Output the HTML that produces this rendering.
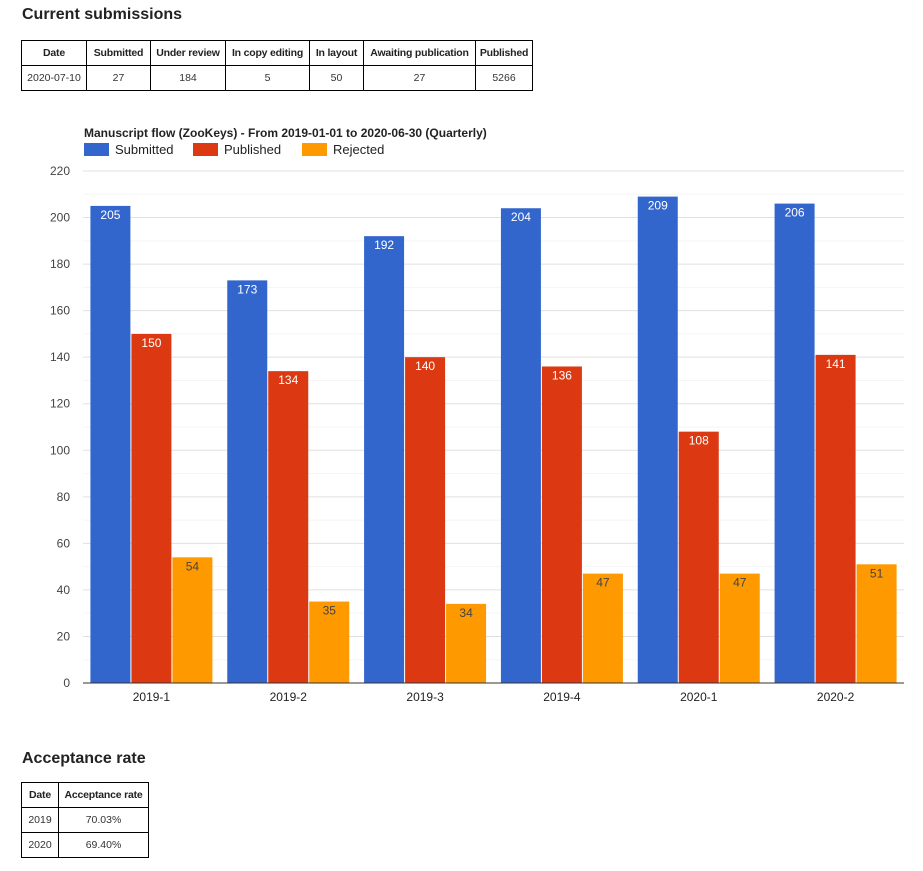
<!DOCTYPE html>
<html><head><meta charset="utf-8"><style>
body{margin:0;background:#fff;font-family:"Liberation Sans",Arial,sans-serif;color:#222;width:923px;height:871px;position:relative;overflow:hidden}
h2{position:absolute;margin:0;font-size:16px;font-weight:bold;color:#222}
table{position:absolute;border-collapse:collapse;font-size:10.5px;table-layout:fixed}
td,th{border:1px solid #000;text-align:center;padding:0;height:24px;white-space:nowrap;overflow:hidden}
th{font-weight:bold;letter-spacing:-0.2px}
td{color:#333}
</style></head><body>
<h2 style="left:22px;top:6px">Current submissions</h2>
<table style="left:21px;top:40px;width:512px">
<tr><th style="width:64px">Date</th><th style="width:63px">Submitted</th><th style="width:74px">Under review</th><th style="width:83px">In copy editing</th><th style="width:53px">In layout</th><th style="width:111px">Awaiting publication</th><th>Published</th></tr>
<tr><td>2020-07-10</td><td>27</td><td>184</td><td>5</td><td>50</td><td>27</td><td>5266</td></tr>
</table>
<svg style="position:absolute;left:0;top:110px" width="923" height="610" id="chart"></svg>
<h2 style="left:22px;top:750px">Acceptance rate</h2>
<table style="left:21px;top:782px;width:128px">
<tr><th style="width:36px">Date</th><th>Acceptance rate</th></tr>
<tr><td>2019</td><td>70.03%</td></tr>
<tr><td>2020</td><td>69.40%</td></tr>
</table>
<script>
const categories=["2019-1","2019-2","2019-3","2019-4","2020-1","2020-2"];
const seriesNames=["Submitted","Published","Rejected"];
const submitted=[205,173,192,204,209,206];
const published=[150,134,140,136,108,141];
const rejected=[54,35,34,47,47,51];
const yTicks=[0,20,40,60,80,100,120,140,160,180,200,220];
const colors=["#3366cc","#dc3912","#ff9900"];
const NS="http://www.w3.org/2000/svg";
const svg=document.getElementById('chart');
const OY=110, X0=83, X1=904, Y0=683-OY, Y1=171-OY, YMAX=220;
const y=v=>Y0-(v/YMAX)*(Y0-Y1);
const gw=(X1-X0)/categories.length, bw=41;
function mk(tag,attrs,parent){const e=document.createElementNS(NS,tag);for(const k in attrs)e.setAttribute(k,attrs[k]);(parent||svg).appendChild(e);return e;}
const t=mk('text',{x:84,y:133-OY+4,'font-size':12,'font-weight':'bold',fill:'#222'});
t.textContent="Manuscript flow (ZooKeys) - From 2019-01-01 to 2020-06-30 (Quarterly)";


const legX=[84,193,302];
seriesNames.forEach((n,i)=>{
  const g=mk('g',{});
  
  
  mk('rect',{x:legX[i],y:143-OY,width:25,height:13,fill:colors[i]},g);
  const tx=mk('text',{x:legX[i]+31,y:154-OY,'font-size':13,fill:'#222'},g);tx.textContent=n;
});
for(let v=0;v<=YMAX;v+=10){
  const l=mk('line',{x1:X0,x2:X1,y1:y(v),y2:y(v),stroke:v%20?'#f5f5f5':'#e0e0e0','stroke-width':1});
  
  
}
yTicks.forEach(v=>{
  const tx=mk('text',{x:70,y:y(v)+4,'font-size':12,fill:'#444','text-anchor':'end'});tx.textContent=v;
  
  
});
const series=[submitted,published,rejected];
categories.forEach((c,i)=>{
  const gx=X0+i*gw+(gw-3*bw)/2;
  series.forEach((s,j)=>{
    const bx=gx+j*bw, v=s[i];
    const r=mk('rect',{x:bx+0.5,y:y(v),width:bw-1,height:Y0-y(v),fill:colors[j]});
    
    
    const tx=mk('text',{x:bx+bw/2,y:y(v)+13,'font-size':12,fill:j==2?'#444':'#fff','text-anchor':'middle'});tx.textContent=v;
    
    
  });
  const tx=mk('text',{x:X0+i*gw+gw/2,y:Y0+18,'font-size':12,fill:'#222','text-anchor':'middle'});tx.textContent=c;
  
  
});
const ax=mk('line',{x1:X0,x2:X1,y1:Y0,y2:Y0,stroke:'#333','stroke-width':1});


</script>
</body></html>
